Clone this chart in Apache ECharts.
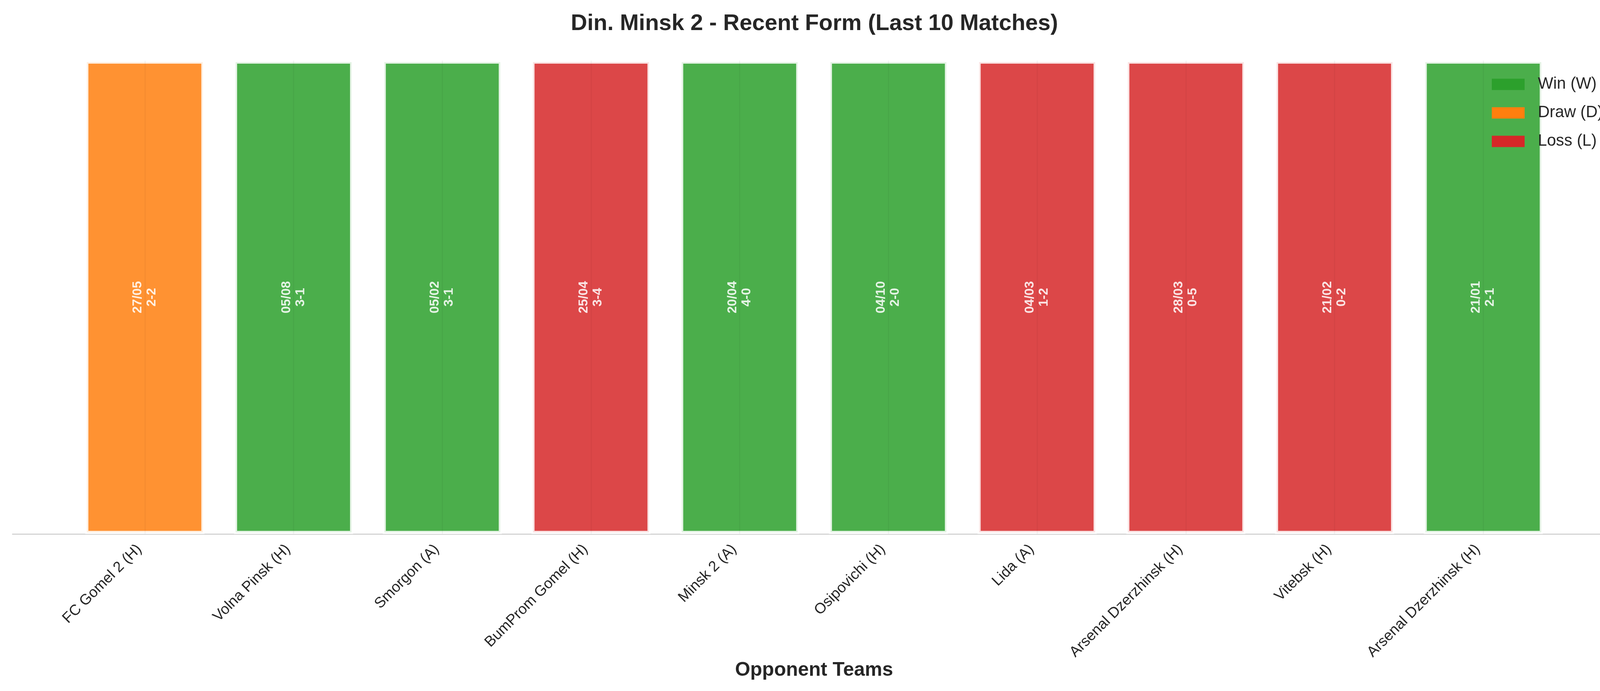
<!DOCTYPE html>
<html>
<head>
<meta charset="utf-8">
<script src="https://cdn.jsdelivr.net/npm/echarts@6/dist/echarts.min.js"></script>
<style>
html, body { margin: 0; padding: 0; background: #fff; }
#main { width: 4170px; height: 1769px; }
</style>
</head>
<body>
<div id="main"></div>
<script>
var teams = ['FC Gomel 2 (H)', 'Volna Pinsk (H)', 'Smorgon (A)', 'BumProm Gomel (H)', 'Minsk 2 (A)',
    'Osipovichi (H)', 'Lida (A)', 'Arsenal Dzerzhinsk (H)', 'Vitebsk (H)', 'Arsenal Dzerzhinsk (H)'];
var dates = ['27/05', '05/08', '05/02', '25/04', '20/04', '04/10', '04/03', '28/03', '21/02', '21/01'];
var scores = ['2-2', '3-1', '3-1', '3-4', '4-0', '2-0', '1-2', '0-5', '0-2', '2-1'];
var results = ['D', 'W', 'W', 'L', 'W', 'W', 'L', 'L', 'L', 'W'];
var barValues = [1, 1, 1, 1, 1, 1, 1, 1, 1, 1];

var resultNames = { W: 'Win (W)', D: 'Draw (D)', L: 'Loss (L)' };
var resultColors = { W: '#2ca02c', D: '#ff7f0e', L: '#d62728' };
var resultOrder = ['W', 'D', 'L'];

var myChart = echarts.init(document.getElementById('main'));
var font = 'Liberation Sans, Arial, Helvetica, sans-serif';

function buildSeries(r) {
    var data = [];
    var lines = [];
    for (var i = 0; i < teams.length; i++) {
        if (results[i] !== r) continue;
        data.push({ value: [i, barValues[i]] });
        // thin darker stripe through the middle of every bar
        lines.push([{ coord: [i, 0] }, { coord: [i, barValues[i]] }]);
    }
    return {
        name: resultNames[r],
        type: 'bar',
        barWidth: 305,
        barGap: '-100%',
        data: data,
        itemStyle: {
            color: resultColors[r],
            opacity: 0.85,
            borderColor: '#ffffff',
            borderWidth: 8
        },
        label: {
            show: true,
            position: 'inside',
            rotate: 90,
            color: '#ffffff',
            fontFamily: font,
            fontWeight: 'bold',
            fontSize: 33,
            lineHeight: 36,
            formatter: function (p) {
                var i = p.value[0];
                return dates[i] + '\n' + scores[i];
            }
        },
        markLine: {
            silent: true,
            symbol: ['none', 'none'],
            label: { show: false },
            lineStyle: { color: 'rgba(0,0,0,0.035)', width: 3, type: 'solid' },
            data: lines
        }
    };
}

var option = {
    backgroundColor: '#ffffff',
    animation: false,
    title: {
        text: 'Din. Minsk 2 - Recent Form (Last 10 Matches)',
        left: 'center',
        top: 27,
        textStyle: { fontFamily: font, fontWeight: 'bold', fontSize: 58, color: '#262626' }
    },
    legend: {
        orient: 'vertical',
        left: 3819,
        top: 195,
        padding: 0,
        itemWidth: 84,
        itemHeight: 29,
        itemGap: 31,
        textStyle: { fontFamily: font, fontSize: 41.7, color: '#262626', padding: [0, 0, 0, 29] },
        data: resultOrder.map(function (r) {
            return { name: resultNames[r], icon: 'rect', itemStyle: { color: resultColors[r], opacity: 1, borderWidth: 0 } };
        })
    },
    grid: { left: 32, right: 34, top: 155, bottom: 402 },
    xAxis: {
        type: 'value',
        min: -0.89,
        max: 9.89,
        name: 'Opponent Teams',
        nameLocation: 'middle',
        nameGap: 324,
        nameMoveOverlap: false,
        nameTextStyle: { fontFamily: font, fontWeight: 'bold', fontSize: 50, color: '#262626' },
        axisLine: { show: true, lineStyle: { color: '#cccccc', width: 2.5 } },
        axisTick: { show: false },
        splitLine: { show: false },
        axisLabel: {
            customValues: teams.map(function (t, i) { return i; }),
            rotate: 45,
            margin: 19,
            padding: [0, 20, 0, 0],
            fontFamily: font,
            fontSize: 38,
            color: '#262626',
            formatter: function (v) { return teams[Math.round(v)]; }
        }
    },
    yAxis: {
        type: 'value',
        min: 0,
        max: 1,
        show: false,
        splitLine: { show: false }
    },
    series: resultOrder.map(buildSeries)
};

myChart.setOption(option);
</script>
</body>
</html>
